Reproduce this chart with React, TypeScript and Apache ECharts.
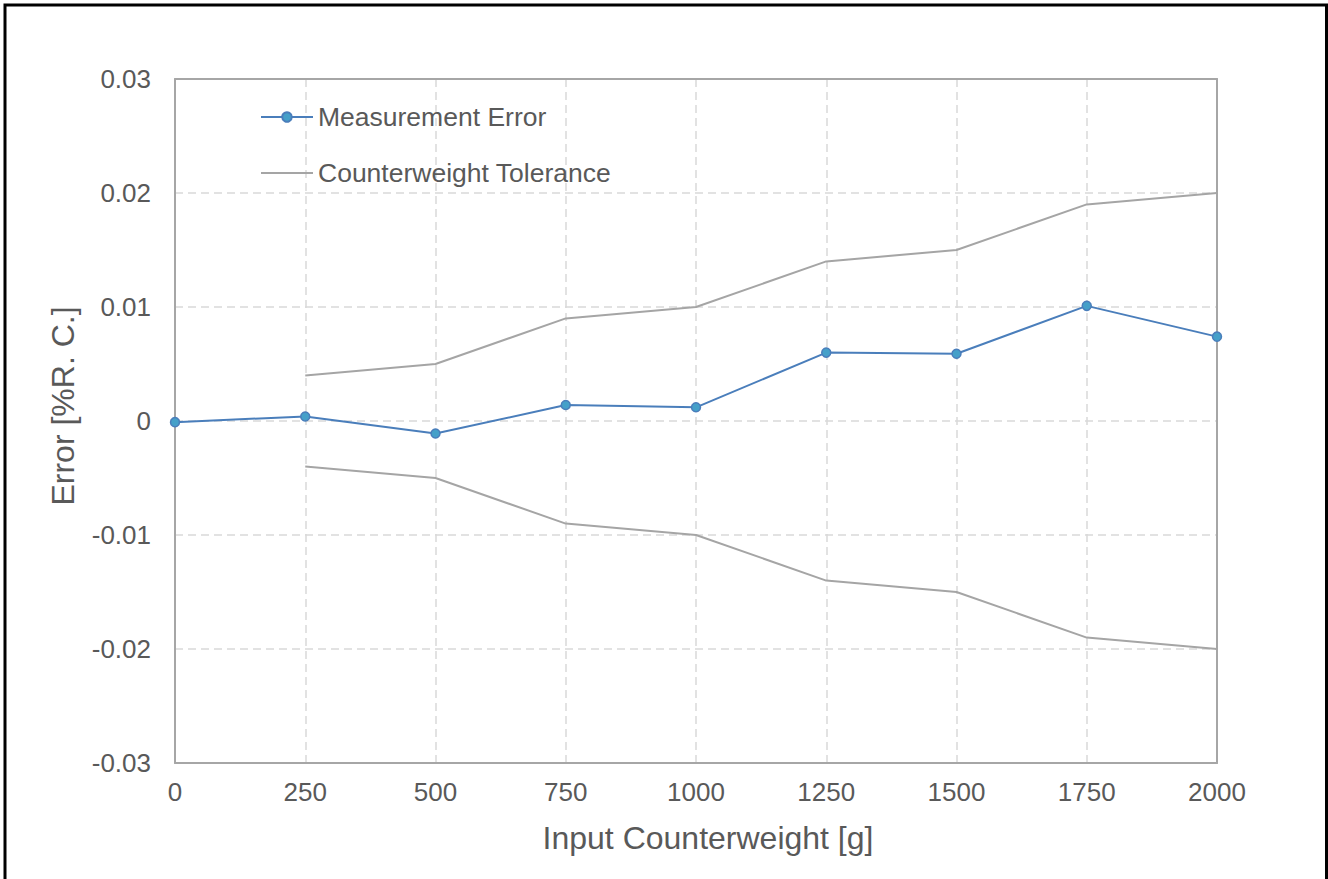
import React, { useEffect, useRef } from "react";
import * as echarts from "echarts";

const xTicks = [0, 250, 500, 750, 1000, 1250, 1500, 1750, 2000];
const measX = [0, 250, 500, 750, 1000, 1250, 1500, 1750, 2000];
const measErr = [-0.0001, 0.0004, -0.0011, 0.0014, 0.0012, 0.006, 0.0059, 0.0101, 0.0074];
const tolX = [250, 500, 750, 1000, 1250, 1500, 1750, 2000];
const tolUpper = [0.004, 0.005, 0.009, 0.01, 0.014, 0.015, 0.019, 0.02];
const tolLower = [-0.004, -0.005, -0.009, -0.01, -0.014, -0.015, -0.019, -0.02];

const FONT = "'Liberation Sans', Arial, sans-serif";
const TXT = "#595959";

export default function App() {
  const ref = useRef<HTMLDivElement>(null);
  useEffect(() => {
    document.body.style.margin = "0";
    if (!ref.current) return;
    const chart = echarts.init(ref.current, null, { renderer: "svg" });
    const gridLine = { show: true, lineStyle: { color: "#d9d9d9", width: 1.5, type: [8, 5] as any } };
    const frame = { show: true, onZero: false, lineStyle: { color: "#a6a6a6", width: 2 } };
    chart.setOption({
      animation: false,
      backgroundColor: "#ffffff",
      textStyle: { fontFamily: FONT },
      grid: { left: 175, right: 111, top: 79, bottom: 116, containLabel: false },
      legend: {
        orient: "vertical",
        left: 260,
        top: 102,
        padding: 0,
        itemWidth: 52,
        itemHeight: 12,
        itemGap: 26,
        data: [
          { name: "Measurement Error" },
          { name: "Counterweight Tolerance", icon: "path://M0,0H52V2H0Z" },
        ],
        textStyle: { color: TXT, fontSize: 26.5, lineHeight: 30, fontFamily: FONT },
      },
      xAxis: [
        {
          type: "value",
          min: 0,
          max: 2000,
          interval: 250,
          position: "bottom",
          axisLine: frame,
          axisTick: { show: false },
          axisLabel: { color: TXT, fontSize: 26, margin: 16, fontFamily: FONT, formatter: (v: number) => String(v) },
          splitLine: gridLine,
        },
        {
          type: "value",
          min: 0,
          max: 2000,
          interval: 250,
          position: "top",
          axisLine: frame,
          axisTick: { show: false },
          axisLabel: { show: false },
          splitLine: { show: false },
        },
      ],
      yAxis: [
        {
          type: "value",
          min: -0.03,
          max: 0.03,
          interval: 0.01,
          position: "left",
          axisLine: frame,
          axisTick: { show: false },
          axisLabel: {
            color: TXT,
            fontSize: 26,
            margin: 24,
            fontFamily: FONT,
            formatter: (v: number) => (Math.abs(v) < 1e-9 ? "0" : String(Number(v.toFixed(2)))),
          },
          splitLine: gridLine,
        },
        {
          type: "value",
          min: -0.03,
          max: 0.03,
          interval: 0.01,
          position: "right",
          axisLine: frame,
          axisTick: { show: false },
          axisLabel: { show: false },
          splitLine: { show: false },
        },
      ],
      graphic: [
        {
          type: "rect",
          shape: { x: 5, y: 5, width: 1321.5, height: 920 },
          style: { fill: "none", stroke: "#000000", lineWidth: 3 },
          silent: true,
        },
        {
          type: "text",
          x: 708,
          y: 838,
          style: {
            text: "Input Counterweight [g]",
            fill: TXT,
            fontSize: 32,
            fontFamily: FONT,
            textAlign: "center",
            textVerticalAlign: "middle",
          },
        },
        {
          type: "text",
          x: 63,
          y: 406,
          rotation: Math.PI / 2,
          style: {
            text: "Error [%R. C.]",
            fill: TXT,
            fontSize: 32,
            fontFamily: FONT,
            textAlign: "center",
            textVerticalAlign: "middle",
          },
        },
      ],
      series: [
        {
          name: "Counterweight Tolerance",
          type: "line",
          data: tolX.map((x, i) => [x, tolUpper[i]]),
          symbol: "none",
          lineStyle: { color: "#a5a5a5", width: 2 },
          itemStyle: { color: "#a5a5a5" },
          z: 2,
        },
        {
          name: "Counterweight Tolerance",
          type: "line",
          data: tolX.map((x, i) => [x, tolLower[i]]),
          symbol: "none",
          lineStyle: { color: "#a5a5a5", width: 2 },
          itemStyle: { color: "#a5a5a5" },
          z: 2,
        },
        {
          name: "Measurement Error",
          type: "line",
          data: measX.map((x, i) => [x, measErr[i]]),
          symbol: "circle",
          symbolSize: 9,
          lineStyle: { color: "#4a7ebb", width: 2 },
          itemStyle: { color: "#45a0c9", borderColor: "#4a7ebb", borderWidth: 1.5 },
          z: 3,
        },
      ],
    });
    return () => chart.dispose();
  }, []);
  return <div ref={ref} style={{ width: 1328, height: 879 }} />;
}
